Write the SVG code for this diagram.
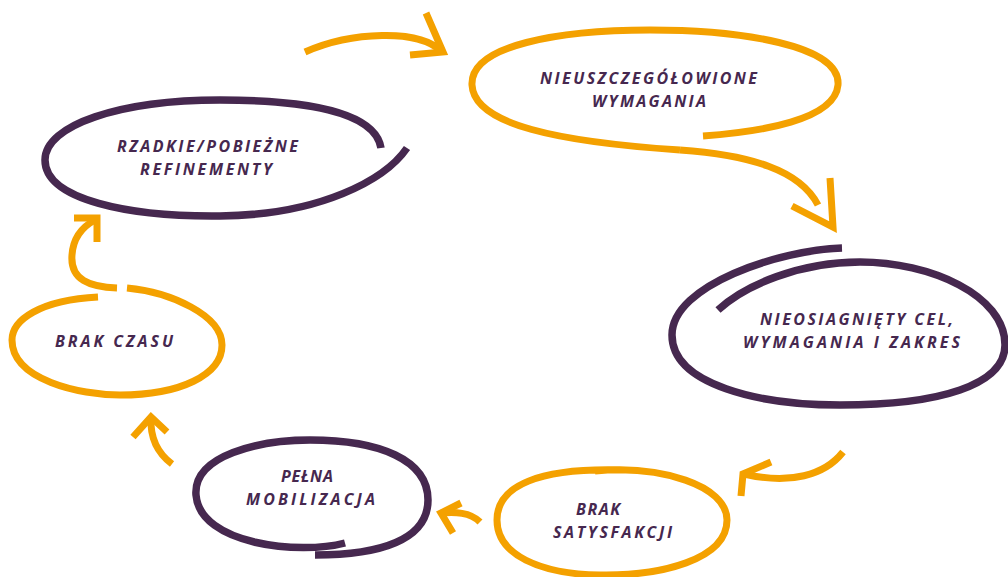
<svg xmlns="http://www.w3.org/2000/svg" width="1008" height="577" viewBox="0 0 1008 577">
<style>
.o{fill:none;stroke:#F4A100;stroke-width:7;stroke-linecap:butt;stroke-linejoin:miter}
.p{fill:none;stroke:#46284F;stroke-width:7.5;stroke-linecap:butt;stroke-linejoin:round}
.t{font-family:"Open Sans","Liberation Sans",sans-serif;font-style:italic;font-weight:700;font-size:16px;fill:#46284F;text-anchor:start}
</style>
<rect width="1008" height="577" fill="#ffffff"/>
<g id="connectors">
<path class="o" d="M305,52 C350,32 420,28 442,52"/>
<path class="o" d="M426,13 L443,52 L410,55"/>
<path class="o" d="M680,150 C750,155 800,170 818,205"/>
<path class="o" d="M792,206 L833,227 L830,178"/>
<path class="o" d="M843,452 C825,475 790,485 744,474"/>
<path class="o" d="M771,462 L743,474 L741,496"/>
<path class="o" d="M480,522 C470,512 455,512 441,513"/>
<path class="o" d="M461,503 L441,513 L453,533"/>
<path class="o" d="M172,464 C160,455 150,440 151,418"/>
<path class="o" d="M133,437 L151,417 L167,432"/>
<path class="o" d="M117,288 C90,287 70,280 72,255 C73,240 80,228 95,220"/>
<path class="o" d="M74,218 L97,218 L97,242"/>
</g>
<g id="node-nieuszczegolowione">
<path class="o" d="M703,136 C760,132 835,120 838,85 C841,45 740,30 650,30 C560,30 470,45 472,85 C474,125 560,142 680,150"/>
<text class="t" x="540" y="84" textLength="217" lengthAdjust="spacing">NIEUSZCZEGÓŁOWIONE</text>
<text class="t" x="592" y="107" textLength="114" lengthAdjust="spacing">WYMAGANIA</text>
</g>
<g id="node-rzadkie">
<path class="p" d="M381,148 C375,110 300,100 220,100 C120,100 45,125 45,160 C45,200 130,217 220,216 C320,215 385,180 407,148"/>
<text class="t" x="117" y="152" textLength="181" lengthAdjust="spacing">RZADKIE/POBIEŻNE</text>
<text class="t" x="140" y="175" textLength="132" lengthAdjust="spacing">REFINEMENTY</text>
</g>
<g id="node-nieosiagniety">
<path class="p" d="M842,248 C780,250 672,285 672,335 C672,385 760,405 840,405 C940,405 1005,385 1005,345 C1005,295 930,262 860,262 C800,262 745,285 718,310"/>
<text class="t" x="760" y="325" textLength="193" lengthAdjust="spacing">NIEOSIAGNIĘTY CEL,</text>
<text class="t" x="743" y="348" textLength="217" lengthAdjust="spacing">WYMAGANIA I ZAKRES</text>
</g>
<g id="node-brak-satysfakcji">
<path class="o" d="M595,471 C660,465 727,485 727,520 C727,560 660,576 600,575 C540,574 497,555 497,520 C497,485 540,468 620,470"/>
<text class="t" x="576" y="515" textLength="44" lengthAdjust="spacing">BRAK</text>
<text class="t" x="553" y="538" textLength="119" lengthAdjust="spacing">SATYSFAKCJI</text>
</g>
<g id="node-pelna-mobilizacja">
<path class="p" d="M345,543 C300,555 200,545 196,495 C193,455 260,440 310,440 C380,440 428,460 428,500 C428,540 380,555 315,555"/>
<text class="t" x="281" y="482" textLength="52" lengthAdjust="spacing">PEŁNA</text>
<text class="t" x="246" y="505" textLength="129" lengthAdjust="spacing">MOBILIZACJA</text>
</g>
<g id="node-brak-czasu">
<path class="o" d="M98,297 C40,300 12,320 12,340 C12,380 80,395 120,395 C180,395 222,375 222,345 C222,315 170,292 127,288"/>
<text class="t" x="55" y="347" textLength="118" lengthAdjust="spacing">BRAK CZASU</text>
</g>
</svg>
